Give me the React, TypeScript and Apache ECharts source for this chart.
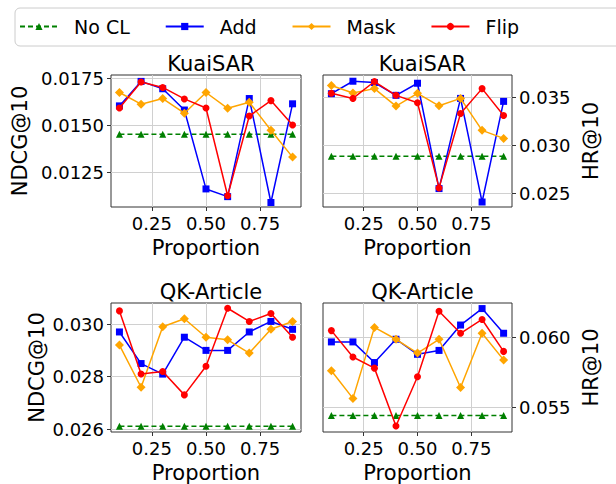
import React, { useEffect, useRef } from "react";
import * as echarts from "echarts";

const proportions = [0.1, 0.2, 0.3, 0.4, 0.5, 0.6, 0.7, 0.8, 0.9];
const seriesNames = ["No CL", "Add", "Mask", "Flip"];
const xTicks = [0.25, 0.5, 0.75];

// KuaiSAR NDCG@10
const kuaiNdcgNoCL = [0.01452, 0.01452, 0.01452, 0.01452, 0.01452, 0.01452, 0.01452, 0.01452, 0.01452];
const kuaiNdcgAdd = [0.01602, 0.01732, 0.01693, 0.0158, 0.01161, 0.0112, 0.01641, 0.01089, 0.01613];
const kuaiNdcgMask = [0.01673, 0.01611, 0.01641, 0.01563, 0.01673, 0.01589, 0.01621, 0.01473, 0.0133];
const kuaiNdcgFlip = [0.01591, 0.01729, 0.017, 0.01639, 0.01591, 0.01125, 0.01548, 0.0163, 0.015];
const kuaiNdcgTicks = [0.0125, 0.015, 0.0175];

// KuaiSAR HR@10
const kuaiHrNoCL = [0.02888, 0.02888, 0.02888, 0.02888, 0.02888, 0.02888, 0.02888, 0.02888, 0.02888];
const kuaiHrAdd = [0.0354, 0.0367, 0.03656, 0.03523, 0.03649, 0.02551, 0.03491, 0.02411, 0.0346];
const kuaiHrMask = [0.03625, 0.03547, 0.03593, 0.03411, 0.03544, 0.03414, 0.03491, 0.03158, 0.03074];
const kuaiHrFlip = [0.03544, 0.03491, 0.03667, 0.03523, 0.03446, 0.02558, 0.03333, 0.03593, 0.03312];
const kuaiHrTicks = [0.025, 0.03, 0.035];

// QK-Article NDCG@10
const qkNdcgNoCL = [0.02612, 0.02612, 0.02612, 0.02612, 0.02612, 0.02612, 0.02612, 0.02612, 0.02612];
const qkNdcgAdd = [0.0297, 0.0285, 0.0281, 0.0295, 0.029, 0.029, 0.0297, 0.0301, 0.0298];
const qkNdcgMask = [0.0292, 0.0276, 0.0299, 0.0302, 0.0295, 0.0294, 0.0289, 0.0298, 0.0301];
const qkNdcgFlip = [0.0305, 0.0281, 0.0282, 0.02731, 0.0284, 0.0306, 0.0301, 0.0304, 0.0295];
const qkNdcgTicks = [0.026, 0.028, 0.03];

// QK-Article HR@10
const qkHrNoCL = [0.05441, 0.05441, 0.05441, 0.05441, 0.05441, 0.05441, 0.05441, 0.05441, 0.05441];
const qkHrAdd = [0.05969, 0.05969, 0.05821, 0.05988, 0.0588, 0.05908, 0.0609, 0.06208, 0.06031];
const qkHrMask = [0.05762, 0.05564, 0.06073, 0.05988, 0.05889, 0.05988, 0.05642, 0.06031, 0.0584];
const qkHrFlip = [0.0605, 0.05861, 0.05781, 0.05366, 0.05719, 0.06189, 0.06031, 0.0613, 0.05901];
const qkHrTicks = [0.055, 0.06];

const FONT = "DejaVu Sans";
const colors = ["#008000", "#0000ff", "#ffa500", "#ff0000"];
const symbols = ["triangle", "rect", "diamond", "circle"];
const symbolSizes = [7, 7, 9, 7];

const panels = [
  { title: "KuaiSAR", data: [kuaiNdcgNoCL, kuaiNdcgAdd, kuaiNdcgMask, kuaiNdcgFlip], ticks: kuaiNdcgTicks, yName: "NDCG@10", right: false, min: 0.01065, max: 0.01766, dec: 4, grid: { left: 111, top: 75, width: 190, height: 132 }, nameGap: 81 },
  { title: "KuaiSAR", data: [kuaiHrNoCL, kuaiHrAdd, kuaiHrMask, kuaiHrFlip], ticks: kuaiHrTicks, yName: "HR@10", right: true, min: 0.02359, max: 0.03735, dec: 3, grid: { left: 323, top: 75, width: 189, height: 132 }, nameGap: 68 },
  { title: "QK-Article", data: [qkNdcgNoCL, qkNdcgAdd, qkNdcgMask, qkNdcgFlip], ticks: qkNdcgTicks, yName: "NDCG@10", right: false, min: 0.0259, max: 0.0308, dec: 3, grid: { left: 111, top: 303, width: 190, height: 130 }, nameGap: 64 },
  { title: "QK-Article", data: [qkHrNoCL, qkHrAdd, qkHrMask, qkHrFlip], ticks: qkHrTicks, yName: "HR@10", right: true, min: 0.05323, max: 0.06248, dec: 3, grid: { left: 323, top: 303, width: 189, height: 130 }, nameGap: 68 },
];

export default function App() {
  const ref = useRef<HTMLDivElement>(null);
  useEffect(() => {
    if (!ref.current) return;
    const chart = echarts.init(ref.current, null, { renderer: "svg" });
    const grids: any[] = [];
    const xAxes: any[] = [];
    const yAxes: any[] = [];
    const titles: any[] = [];
    const series: any[] = [];
    panels.forEach((p, i) => {
      grids.push({ ...p.grid, show: true, borderColor: "#333", borderWidth: 1, backgroundColor: "transparent" });
      titles.push({
        text: p.title,
        left: p.grid.left + p.grid.width / 2,
        top: p.grid.top - 27,
        textAlign: "center",
        textStyle: { fontFamily: FONT, fontSize: 21, fontWeight: "normal", color: "#000" },
      });
      xAxes.push({
        gridIndex: i,
        type: "value",
        min: 0.061,
        max: 0.939,
        name: "Proportion",
        nameLocation: "middle",
        nameGap: 30,
        nameTextStyle: { fontFamily: FONT, fontSize: 21, color: "#000" },
        axisLine: { show: false },
        axisTick: { show: true, length: 4, customValues: xTicks, lineStyle: { color: "#333" } },
        axisLabel: { customValues: xTicks, formatter: (v: number) => v.toFixed(2), fontFamily: FONT, fontSize: 18, color: "#000", margin: 7 },
        splitLine: { show: true, lineStyle: { color: "#d0d0d0", width: 1 } },
      });
      yAxes.push({
        gridIndex: i,
        type: "value",
        position: p.right ? "right" : "left",
        min: p.min,
        max: p.max,
        name: p.yName,
        nameLocation: "middle",
        nameGap: p.nameGap,
        nameRotate: 90,
        nameTextStyle: { fontFamily: FONT, fontSize: 21, color: "#000" },
        axisLine: { show: false },
        axisTick: { show: true, length: 4, customValues: p.ticks, lineStyle: { color: "#333" } },
        axisLabel: { customValues: p.ticks, formatter: (v: number) => v.toFixed(p.dec), fontFamily: FONT, fontSize: 18, color: "#000", margin: 7 },
        splitLine: { show: true, lineStyle: { color: "#d0d0d0", width: 1 } },
      });
      p.data.forEach((vals, k) => {
        series.push({
          name: seriesNames[k],
          type: "line",
          xAxisIndex: i,
          yAxisIndex: i,
          data: proportions.map((x, j) => [x, vals[j]]),
          symbol: symbols[k],
          symbolSize: symbolSizes[k],
          showSymbol: true,
          itemStyle: { color: colors[k] },
          lineStyle: { color: colors[k], width: 1.5, type: k === 0 ? [5, 3] : "solid" },
          z: 2 + k,
        });
      });
    });
    chart.setOption({
      animation: false,
      backgroundColor: "#fff",
      title: titles,
      grid: grids,
      xAxis: xAxes,
      yAxis: yAxes,
      series,
      graphic: [
        { type: "rect", shape: { x: 15, y: 8, width: 640, height: 38, r: 5 }, style: { fill: "#fff", stroke: "#cccccc", lineWidth: 1 }, z: -1 },
      ],
      legend: {
        data: seriesNames,
        left: 19,
        top: 17,
        padding: 0,
        itemWidth: 38,
        itemHeight: 9,
        itemGap: 35,
        textStyle: { fontFamily: FONT, fontSize: 19, color: "#000", padding: [0, 0, 0, 11] },
      },
    });
    return () => chart.dispose();
  }, []);
  return <div ref={ref} style={{ position: "fixed", left: 0, top: 0, width: 616, height: 484 }} />;
}
